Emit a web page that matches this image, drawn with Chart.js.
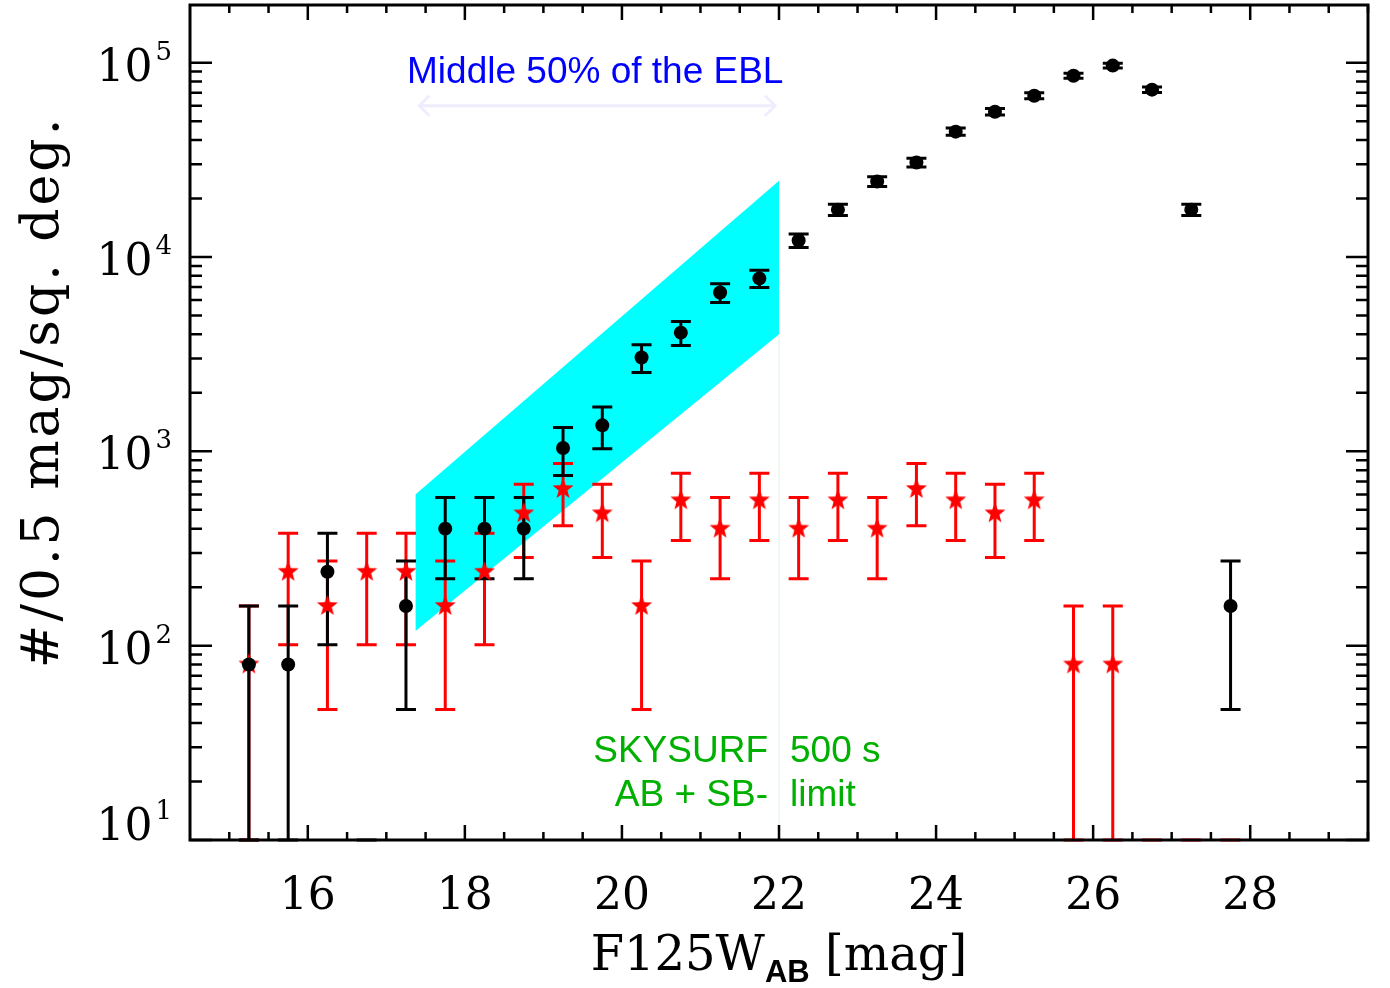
<!DOCTYPE html>
<html>
<head>
<meta charset="utf-8">
<script src="https://cdn.jsdelivr.net/npm/chart.js@4.4.0/dist/chart.umd.min.js"></script>
<style>
  html, body { margin: 0; padding: 0; background: #fff; }
  canvas { display: block; }
</style>
</head>
<body>
<canvas id="chart" width="1390" height="988"></canvas>
<script>
// magnitude bins (0.5 mag wide)
const bins = [15.25, 15.75, 16.25, 16.75, 17.25, 17.75, 18.25, 18.75, 19.25, 19.75,
              20.25, 20.75, 21.25, 21.75, 22.25, 22.75, 23.25, 23.75, 24.25, 24.75,
              25.25, 25.75, 26.25, 26.75, 27.25, 27.75];

// black circles: counts per 0.5 mag per sq. deg. (0 = empty bin)
const blackVals = [80, 80, 240, 0, 160, 400, 400, 400, 1040, 1360,
                   3040, 4080, 6560, 7760, 12160, 17520, 24480, 30640, 44160, 55920,
                   67600, 85680, 96560, 72640, 17520, 160];
const blackLo = [0, 0, 101, 0, 47, 221, 221, 221, 752, 1030,
                 2547, 3509, 5836, 6972, 11174, 16336, 23080, 29070, 42280, 53800,
                 65280, 83060, 93780, 70230, 16336, 47];
const blackHi = [160, 160, 379, 0, 273, 579, 579, 579, 1328, 1690,
                 3533, 4651, 7284, 8548, 13146, 18704, 25880, 32210, 46040, 58040,
                 69920, 88300, 99340, 75050, 18704, 273];

// red stars
const redVals = [80, 240, 160, 240, 240, 160, 240, 480, 640, 480,
                 160, 560, 400, 560, 400, 560, 400, 640, 560, 480,
                 560, 80, 80, 0, 0, 0];
const redLo = [0, 101, 47, 101, 101, 47, 101, 284, 414, 284,
               47, 348, 221, 348, 221, 348, 221, 414, 348, 284,
               348, 0, 0, 0, 0, 0];
const redHi = [160, 379, 273, 379, 379, 273, 379, 676, 866, 676,
               273, 772, 579, 772, 579, 772, 579, 866, 772, 676,
               772, 160, 160, 0, 0, 0];

// cyan band (middle 50% of the EBL)
const bandX = [17.37, 22.0];
const bandTop = [600, 24700];
const bandBottom = [119, 4000];

// axes
const xTicks = [16, 18, 20, 22, 24, 26, 28];
const yExponents = [1, 2, 3, 4, 5];

const serif = '"DejaVu Serif", serif';
const sans = '"Liberation Sans", Arial, sans-serif';

// filled five-pointed star used as point style
function makeStar(r, color) {
  const c = document.createElement('canvas');
  c.width = c.height = r * 2 + 2;
  const g = c.getContext('2d');
  g.fillStyle = color;
  g.beginPath();
  for (let i = 0; i < 10; i++) {
    const rr = i % 2 === 0 ? r : r * 0.42;
    const a = -Math.PI / 2 + i * Math.PI / 5;
    const px = c.width / 2 + rr * Math.cos(a);
    const py = c.height / 2 + rr * Math.sin(a);
    if (i === 0) g.moveTo(px, py); else g.lineTo(px, py);
  }
  g.closePath();
  g.fill();
  return c;
}
const starImg = makeStar(11, '#ff0000');

function drawBars(chart, vals, lo, hi, color) {
  const { ctx, chartArea: a } = chart;
  const xs = chart.scales.x, ys = chart.scales.y;
  const yPix = v => v > 0 ? Math.max(a.top, Math.min(a.bottom, ys.getPixelForValue(v))) : a.bottom;
  ctx.save();
  ctx.strokeStyle = color;
  ctx.lineWidth = 3;
  bins.forEach((b, i) => {
    const x = xs.getPixelForValue(b);
    const y1 = yPix(lo[i]), y2 = yPix(hi[i]);
    ctx.beginPath();
    ctx.moveTo(x, y1); ctx.lineTo(x, y2);
    ctx.moveTo(x - 10, y1); ctx.lineTo(x + 10, y1);
    ctx.moveTo(x - 10, y2); ctx.lineTo(x + 10, y2);
    ctx.stroke();
  });
  ctx.restore();
}

const errorBars = {
  id: 'errorBars',
  afterDatasetDraw(chart, args) {
    if (args.index !== 1) return;
    const { ctx, chartArea: a } = chart;
    // faint SB-limit line
    const x22 = chart.scales.x.getPixelForValue(22);
    ctx.save();
    ctx.strokeStyle = 'rgba(0,160,0,0.06)';
    ctx.lineWidth = 2;
    ctx.beginPath();
    ctx.moveTo(x22, chart.scales.y.getPixelForValue(4000));
    ctx.lineTo(x22, a.bottom);
    ctx.stroke();
    ctx.restore();
    drawBars(chart, redVals, redLo, redHi, '#ff0000');
    drawBars(chart, blackVals, blackLo, blackHi, '#000000');
  }
};

const frameAndText = {
  id: 'frameAndText',
  afterDraw(chart) {
    const { ctx, chartArea: a } = chart;
    const xs = chart.scales.x, ys = chart.scales.y;
    ctx.save();

    // annotations
    ctx.fillStyle = '#0000ff';
    ctx.font = '37px ' + sans;
    ctx.textAlign = 'center';
    ctx.textBaseline = 'alphabetic';
    ctx.fillText('Middle 50% of the EBL', xs.getPixelForValue(19.66), ys.getPixelForValue(79000));

    const ay = ys.getPixelForValue(60000);
    const ax1 = xs.getPixelForValue(17.42), ax2 = xs.getPixelForValue(21.95);
    ctx.strokeStyle = 'rgba(0,0,255,0.07)';
    ctx.lineWidth = 3;
    ctx.beginPath();
    ctx.moveTo(ax1, ay); ctx.lineTo(ax2, ay);
    ctx.moveTo(ax1 + 10, ay - 10); ctx.lineTo(ax1, ay); ctx.lineTo(ax1 + 10, ay + 10);
    ctx.moveTo(ax2 - 10, ay - 10); ctx.lineTo(ax2, ay); ctx.lineTo(ax2 - 10, ay + 10);
    ctx.stroke();

    const gx = xs.getPixelForValue(22);
    ctx.fillStyle = '#00b000';
    ctx.font = '37px ' + sans;
    ctx.textAlign = 'right';
    ctx.fillText('SKYSURF', gx - 11, ys.getPixelForValue(25.2));
    ctx.fillText('AB + SB-', gx - 11, ys.getPixelForValue(15));
    ctx.textAlign = 'left';
    ctx.fillText('500 s', gx + 11, ys.getPixelForValue(25.2));
    ctx.fillText('limit', gx + 11, ys.getPixelForValue(15));

    // frame
    ctx.strokeStyle = '#000';
    ctx.lineWidth = 3;
    ctx.strokeRect(a.left, a.top, a.right - a.left, a.bottom - a.top);

    // x ticks (inward, top and bottom)
    ctx.lineWidth = 2.5;
    ctx.beginPath();
    for (let v = 15; v <= 29.5; v += 0.5) {
      const x = xs.getPixelForValue(v);
      const len = xTicks.includes(v) ? 15 : 8;
      ctx.moveTo(x, a.bottom); ctx.lineTo(x, a.bottom - len);
      ctx.moveTo(x, a.top); ctx.lineTo(x, a.top + len);
    }
    // y ticks (inward, left and right)
    yExponents.forEach(e => {
      for (let m = 1; m <= 9; m++) {
        const v = m * Math.pow(10, e);
        if (v > ys.max) break;
        const y = ys.getPixelForValue(v);
        const len = m === 1 ? 22 : 12;
        ctx.moveTo(a.left, y); ctx.lineTo(a.left + len, y);
        ctx.moveTo(a.right, y); ctx.lineTo(a.right - len, y);
      }
    });
    ctx.stroke();

    // tick labels
    ctx.fillStyle = '#000';
    ctx.font = '44px ' + serif;
    ctx.textAlign = 'center';
    xTicks.forEach(v => ctx.fillText(String(v), xs.getPixelForValue(v), 909));

    yExponents.forEach(e => {
      const y = ys.getPixelForValue(Math.pow(10, e));
      const base = Math.min(y + 18, 840);
      ctx.font = '26px ' + serif;
      const sup = String(e);
      const sw = ctx.measureText(sup).width;
      ctx.textAlign = 'left';
      ctx.fillText(sup, 172 - sw, base - 21);
      ctx.font = '44px ' + serif;
      ctx.textAlign = 'right';
      ctx.fillText('10', 172 - sw - 3, base);
    });

    // y title
    ctx.save();
    ctx.translate(58, 392);
    ctx.rotate(-Math.PI / 2);
    ctx.textAlign = 'center';
    ctx.font = '52px ' + serif;
    ctx.letterSpacing = '3px';
    ctx.fillText('#/0.5 mag/sq. deg.', 0, 0);
    ctx.restore();

    // x title with subscript
    const p1 = 'F125W', sub = 'AB', p2 = ' [mag]';
    ctx.font = '48px ' + serif;
    const w1 = ctx.measureText(p1).width, w3 = ctx.measureText(p2).width;
    ctx.font = 'bold 31px ' + sans;
    const w2 = ctx.measureText(sub).width;
    let x0 = (a.left + a.right) / 2 - (w1 + w2 + w3) / 2;
    ctx.textAlign = 'left';
    ctx.font = '48px ' + serif;
    ctx.fillText(p1, x0, 970);
    ctx.font = 'bold 31px ' + sans;
    ctx.fillText(sub, x0 + w1, 982);
    ctx.font = '48px ' + serif;
    ctx.fillText(p2, x0 + w1 + w2, 970);

    ctx.restore();
  }
};

new Chart(document.getElementById('chart'), {
  type: 'scatter',
  data: {
    datasets: [
      {
        label: 'band top',
        data: bandX.map((x, i) => ({ x, y: bandTop[i] })),
        showLine: true, pointRadius: 0, borderWidth: 0, fill: false, order: 6
      },
      {
        label: 'band bottom',
        data: bandX.map((x, i) => ({ x, y: bandBottom[i] })),
        showLine: true, pointRadius: 0, borderWidth: 0,
        fill: '-1', backgroundColor: '#00ffff', order: 5
      },
      {
        label: 'red',
        data: bins.map((x, i) => ({ x, y: redVals[i] > 0 ? redVals[i] : null })),
        pointStyle: starImg, pointRadius: 11, order: 1
      },
      {
        label: 'black',
        data: bins.map((x, i) => ({ x, y: blackVals[i] > 0 ? blackVals[i] : null })),
        pointStyle: 'circle', pointRadius: 7, backgroundColor: '#000', borderWidth: 0, order: 0
      }
    ]
  },
  options: {
    responsive: false,
    animation: false,
    layout: { autoPadding: false, padding: { left: 190, right: 22, top: 5, bottom: 148 } },
    plugins: { legend: { display: false }, tooltip: { enabled: false } },
    scales: {
      x: { type: 'linear', min: 14.5, max: 29.5, display: false },
      y: { type: 'logarithmic', min: 10, max: 198000, display: false }
    }
  },
  plugins: [errorBars, frameAndText]
});
</script>
</body>
</html>
